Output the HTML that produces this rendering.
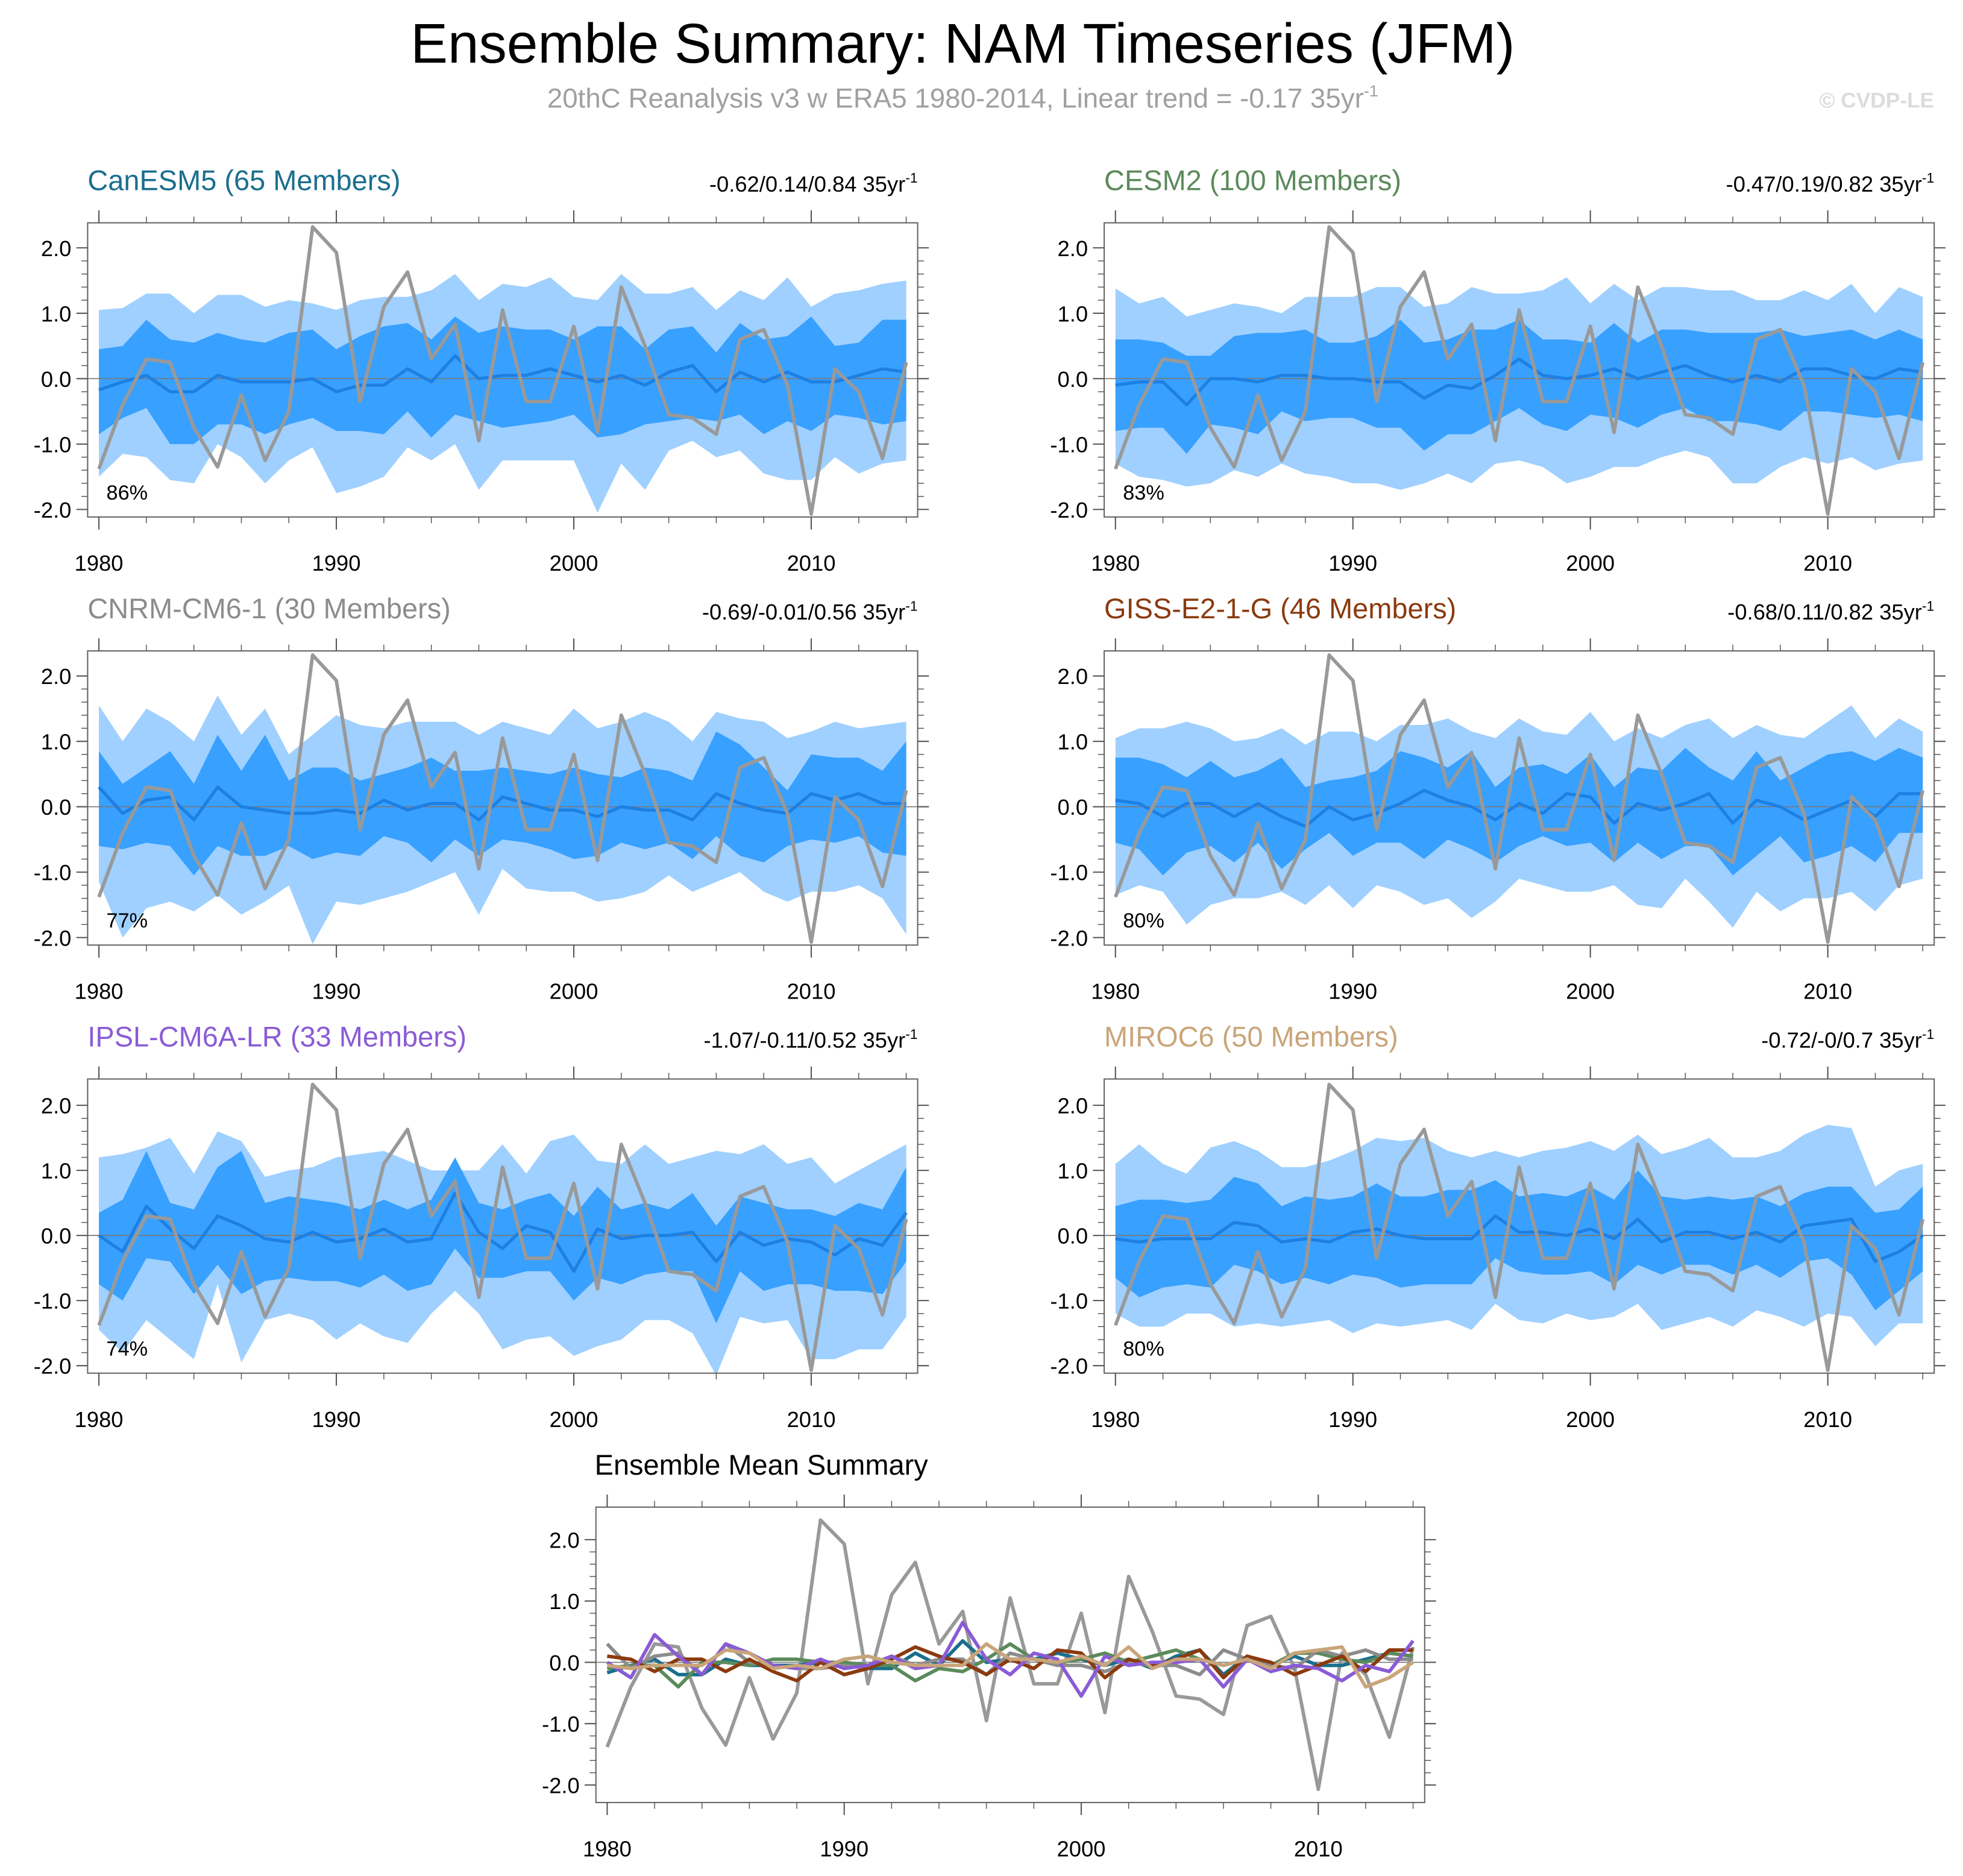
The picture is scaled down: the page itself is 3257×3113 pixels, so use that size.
<!DOCTYPE html>
<html><head><meta charset="utf-8"><title>Ensemble Summary: NAM Timeseries (JFM)</title>
<style>html,body{margin:0;padding:0;background:#fff}svg{display:block}text{font-family:"Liberation Sans",sans-serif}</style>
</head><body>
<svg id="chart" xmlns="http://www.w3.org/2000/svg" width="3257" height="3113" viewBox="0 0 1568 1498.7" preserveAspectRatio="none">
<text x="769" y="50" font-size="44.6" text-anchor="middle">Ensemble Summary: NAM Timeseries (JFM)</text>
<text x="769" y="86" font-size="22" fill="#a0a0a0" text-anchor="middle">20thC Reanalysis v3 w ERA5 1980-2014, Linear trend = -0.17 35yr<tspan dy="-9" font-size="13">-1</tspan></text>
<text x="1545" y="86" font-size="17" font-weight="bold" fill="#dcdcdc" text-anchor="end">© CVDP-LE</text>
<g id="panels"></g>
</svg>
<script>
const years = [];
for (let y = 1980; y <= 2014; y++) years.push(y);
const obs = [-1.38,-0.4,0.3,0.25,-0.75,-1.35,-0.25,-1.25,-0.5,2.32,1.93,-0.35,1.1,1.63,0.3,0.83,-0.95,1.05,-0.35,-0.35,0.8,-0.82,1.4,0.5,-0.55,-0.6,-0.85,0.6,0.75,-0.1,-2.07,0.15,-0.2,-1.22,0.25];
const modelNames = ["CanESM5 (65 Members)","CESM2 (100 Members)","CNRM-CM6-1 (30 Members)","GISS-E2-1-G (46 Members)","IPSL-CM6A-LR (33 Members)","MIROC6 (50 Members)"];
const modelColors = ["#1a6e8e","#5b8a5b","#8c8c8c","#8b3a0e","#8a5bd6","#c9a57a"];
const trendLabels = ["-0.62/0.14/0.84 35yr","-0.47/0.19/0.82 35yr","-0.69/-0.01/0.56 35yr","-0.68/0.11/0.82 35yr","-1.07/-0.11/0.52 35yr","-0.72/-0/0.7 35yr"];
const pctLabels = ["86%","83%","77%","80%","74%","80%"];
const meanCanESM5 = [-0.17,-0.05,0.05,-0.2,-0.2,0.05,-0.05,-0.05,-0.05,0.0,-0.2,-0.1,-0.1,0.15,-0.05,0.35,0.0,0.05,0.05,0.15,0.05,-0.05,0.05,-0.1,0.1,0.2,-0.2,0.1,-0.05,0.1,-0.05,-0.05,0.05,0.15,0.1];
const hi2CanESM5 = [1.05,1.08,1.3,1.3,1.0,1.28,1.28,1.1,1.2,1.15,1.05,1.2,1.25,1.25,1.35,1.6,1.2,1.45,1.4,1.55,1.25,1.2,1.6,1.3,1.3,1.4,1.05,1.35,1.2,1.55,1.1,1.3,1.35,1.45,1.5];
const hi1CanESM5 = [0.45,0.5,0.9,0.6,0.55,0.7,0.6,0.55,0.7,0.75,0.45,0.65,0.8,0.85,0.6,0.95,0.7,0.8,0.75,0.75,0.6,0.8,0.8,0.45,0.75,0.8,0.4,0.85,0.6,0.65,0.95,0.5,0.55,0.9,0.9];
const lo1CanESM5 = [-0.85,-0.6,-0.45,-1.0,-1.0,-0.7,-0.7,-0.85,-0.7,-0.6,-0.8,-0.8,-0.85,-0.5,-0.9,-0.55,-0.65,-0.75,-0.7,-0.65,-0.55,-0.9,-0.85,-0.7,-0.65,-0.6,-0.65,-0.55,-0.85,-0.65,-0.8,-0.55,-0.6,-0.7,-0.65];
const lo2CanESM5 = [-1.5,-1.15,-1.2,-1.55,-1.6,-1.0,-1.2,-1.6,-1.25,-1.05,-1.75,-1.65,-1.5,-1.05,-1.25,-1.0,-1.7,-1.25,-1.25,-1.25,-1.25,-2.05,-1.3,-1.7,-1.1,-0.95,-1.2,-1.1,-1.45,-1.55,-1.55,-1.2,-1.45,-1.3,-1.25];
const meanCESM2 = [-0.1,-0.05,-0.05,-0.4,0.0,0.0,-0.05,0.05,0.05,0.0,0.0,-0.05,-0.05,-0.3,-0.1,-0.15,0.05,0.3,0.05,0.0,0.05,0.15,0.0,0.1,0.2,0.05,-0.05,0.05,-0.05,0.15,0.15,0.05,0.0,0.15,0.1];
const hi2CESM2 = [1.38,1.15,1.25,0.95,1.05,1.15,1.1,1.0,1.25,1.25,1.25,1.4,1.4,1.1,1.15,1.4,1.3,1.3,1.35,1.55,1.15,1.45,1.2,1.4,1.4,1.35,1.35,1.2,1.2,1.35,1.2,1.45,1.0,1.4,1.25];
const hi1CESM2 = [0.6,0.6,0.55,0.35,0.35,0.65,0.7,0.7,0.75,0.55,0.55,0.65,0.9,0.55,0.6,0.75,0.75,0.9,0.6,0.6,0.55,0.85,0.55,0.75,0.75,0.7,0.7,0.7,0.75,0.65,0.7,0.75,0.6,0.75,0.6];
const lo1CESM2 = [-0.8,-0.75,-0.75,-1.15,-0.7,-0.75,-0.85,-0.5,-0.65,-0.6,-0.6,-0.75,-0.75,-1.1,-0.85,-0.85,-0.65,-0.45,-0.7,-0.8,-0.55,-0.6,-0.75,-0.55,-0.45,-0.65,-0.65,-0.7,-0.8,-0.5,-0.5,-0.55,-0.6,-0.55,-0.65];
const lo2CESM2 = [-1.3,-1.5,-1.55,-1.65,-1.6,-1.4,-1.5,-1.3,-1.45,-1.5,-1.6,-1.6,-1.7,-1.6,-1.45,-1.6,-1.3,-1.25,-1.35,-1.6,-1.5,-1.35,-1.35,-1.2,-1.1,-1.2,-1.6,-1.6,-1.35,-1.2,-1.3,-1.2,-1.4,-1.3,-1.25];
const meanCNRM = [0.3,-0.1,0.1,0.15,-0.2,0.3,0.0,-0.05,-0.1,-0.1,-0.05,-0.1,0.1,-0.05,0.05,0.05,-0.2,0.15,0.05,-0.05,-0.05,-0.15,0.0,-0.05,-0.05,-0.2,0.2,0.05,-0.05,-0.1,0.2,0.1,0.2,0.05,0.05];
const hi2CNRM = [1.55,1.0,1.5,1.3,1.0,1.7,1.1,1.5,0.8,1.1,1.4,1.25,1.2,1.3,1.3,1.3,1.1,1.3,1.2,1.1,1.5,1.2,1.3,1.45,1.3,1.0,1.45,1.35,1.3,1.05,1.15,1.3,1.2,1.25,1.3];
const hi1CNRM = [0.85,0.35,0.6,0.85,0.35,1.1,0.55,1.1,0.4,0.6,0.6,0.4,0.5,0.6,0.75,0.55,0.55,0.6,0.55,0.5,0.6,0.5,0.45,0.6,0.55,0.4,1.15,0.95,0.6,0.25,0.8,0.75,0.75,0.55,1.0];
const lo1CNRM = [-0.6,-0.65,-0.55,-0.6,-1.05,-0.6,-0.75,-0.75,-0.6,-0.8,-0.7,-0.75,-0.45,-0.55,-0.85,-0.5,-0.75,-0.5,-0.55,-0.65,-0.8,-0.75,-0.55,-0.65,-0.55,-0.8,-0.45,-0.75,-0.85,-0.6,-0.5,-0.55,-0.45,-0.7,-0.75];
const lo2CNRM = [-1.15,-2.0,-1.55,-1.45,-1.6,-1.35,-1.65,-1.45,-1.2,-2.1,-1.45,-1.5,-1.4,-1.3,-1.15,-1.0,-1.65,-0.95,-1.25,-1.3,-1.3,-1.45,-1.4,-1.3,-1.05,-1.3,-1.15,-1.0,-1.3,-1.45,-1.3,-1.3,-1.2,-1.4,-1.95];
const meanGISS = [0.1,0.05,-0.15,0.05,0.05,-0.15,0.05,-0.15,-0.3,0.0,-0.2,-0.1,0.05,0.25,0.1,0.0,-0.2,0.05,-0.1,0.2,0.15,-0.25,0.05,-0.05,0.05,0.2,-0.25,0.1,0.0,-0.2,-0.05,0.1,-0.15,0.2,0.2];
const hi2GISS = [1.05,1.2,1.2,1.3,1.2,1.0,1.05,1.2,0.95,1.15,1.15,1.0,1.25,1.25,1.35,1.15,1.05,1.35,1.15,1.1,1.45,1.0,1.2,1.05,1.25,1.35,1.05,1.25,1.1,1.05,1.3,1.55,1.05,1.35,1.15];
const hi1GISS = [0.75,0.75,0.65,0.45,0.7,0.45,0.55,0.75,0.3,0.4,0.45,0.55,0.85,0.75,0.6,0.85,0.3,0.6,0.65,0.5,0.8,0.3,0.6,0.55,0.9,0.6,0.4,0.85,0.4,0.6,0.8,0.85,0.7,0.9,0.75];
const lo1GISS = [-0.55,-0.65,-1.05,-0.7,-0.6,-0.85,-0.55,-0.95,-0.65,-0.4,-0.75,-0.55,-0.55,-0.8,-0.5,-0.65,-0.85,-0.6,-0.45,-0.6,-0.55,-0.85,-0.55,-0.8,-0.6,-0.6,-1.05,-0.75,-0.45,-0.85,-0.75,-0.6,-0.85,-0.4,-0.4];
const lo2GISS = [-1.35,-1.2,-1.3,-1.8,-1.5,-1.4,-1.4,-1.3,-1.5,-1.2,-1.55,-1.2,-1.3,-1.5,-1.4,-1.7,-1.45,-1.1,-1.2,-1.3,-1.3,-1.2,-1.5,-1.55,-1.1,-1.45,-1.85,-1.3,-1.6,-1.4,-1.4,-1.3,-1.6,-1.2,-1.1];
const meanIPSL = [0.0,-0.25,0.45,0.1,-0.2,0.3,0.15,-0.05,-0.1,0.05,-0.1,-0.05,0.1,-0.1,-0.05,0.65,0.05,-0.2,0.15,0.05,-0.55,0.1,-0.05,0.0,0.0,0.05,-0.4,0.05,-0.15,-0.05,-0.1,-0.3,-0.05,-0.15,0.35];
const hi2IPSL = [1.2,1.25,1.35,1.5,0.95,1.6,1.45,0.9,1.0,1.05,1.2,1.25,1.3,1.15,1.0,1.0,1.0,1.4,0.95,1.45,1.55,1.15,1.1,1.4,1.1,1.2,1.3,1.25,1.4,1.1,1.2,0.8,1.0,1.2,1.4];
const hi1IPSL = [0.35,0.55,1.3,0.5,0.4,1.05,1.3,0.5,0.6,0.55,0.5,0.4,0.55,0.4,0.55,1.2,0.5,0.4,0.55,0.65,0.3,0.75,0.4,0.5,0.4,0.65,0.15,0.6,0.5,0.4,0.4,0.3,0.5,0.4,1.05];
const lo1IPSL = [-0.75,-1.0,-0.35,-0.4,-0.9,-0.45,-0.9,-0.7,-0.65,-0.7,-0.7,-0.8,-0.6,-0.85,-0.75,-0.2,-0.65,-0.65,-0.55,-0.55,-1.0,-0.65,-0.75,-0.6,-0.55,-0.55,-1.35,-0.55,-0.85,-0.75,-0.75,-0.85,-0.85,-0.9,-0.4];
const lo2IPSL = [-1.45,-1.8,-1.3,-1.6,-1.9,-0.75,-1.95,-1.3,-1.2,-1.3,-1.6,-1.35,-1.55,-1.65,-1.2,-0.85,-1.2,-1.75,-1.6,-1.55,-1.85,-1.7,-1.6,-1.3,-1.3,-1.5,-2.15,-1.25,-1.35,-1.3,-1.9,-1.9,-1.75,-1.75,-1.25];
const meanMIROC = [-0.05,-0.1,-0.05,-0.05,-0.05,0.2,0.15,-0.1,-0.05,-0.1,0.05,0.1,0.0,-0.05,-0.05,-0.05,0.3,0.05,0.05,0.0,0.1,-0.05,0.25,-0.1,0.05,0.05,-0.05,0.05,-0.1,0.15,0.2,0.25,-0.4,-0.25,0.0];
const hi2MIROC = [1.1,1.4,1.1,0.95,1.35,1.45,1.3,1.05,1.05,1.15,1.3,1.5,1.45,1.5,1.3,1.2,1.3,1.2,1.3,1.35,1.45,1.3,1.55,1.25,1.35,1.5,1.2,1.2,1.3,1.55,1.7,1.65,0.75,1.0,1.1];
const hi1MIROC = [0.45,0.55,0.55,0.5,0.55,0.9,0.8,0.45,0.6,0.55,0.6,0.8,0.6,0.6,0.7,0.7,0.85,0.6,0.65,0.6,0.75,0.55,1.0,0.6,0.55,0.6,0.55,0.6,0.45,0.65,0.75,0.75,0.35,0.4,0.75];
const lo1MIROC = [-0.65,-0.95,-0.8,-0.75,-0.8,-0.45,-0.55,-0.75,-0.65,-0.75,-0.6,-0.65,-0.8,-0.75,-0.75,-0.75,-0.35,-0.55,-0.6,-0.6,-0.55,-0.75,-0.45,-0.6,-0.45,-0.45,-0.6,-0.45,-0.65,-0.4,-0.35,-0.6,-1.15,-0.85,-0.55];
const lo2MIROC = [-1.2,-1.4,-1.4,-1.2,-1.2,-1.4,-1.35,-1.4,-1.35,-1.3,-1.5,-1.35,-1.4,-1.35,-1.3,-1.45,-1.05,-1.3,-1.35,-1.2,-1.3,-1.25,-1.05,-1.45,-1.35,-1.25,-1.4,-1.15,-1.25,-1.4,-1.2,-1.25,-1.7,-1.35,-1.35];
const yTickValues = [2,1,0,-1,-2];
const yTickLabels = ["2.0","1.0","0.0","-1.0","-2.0"];
const xTickYears = [1980,1990,2000,2010];

const means = [meanCanESM5,meanCESM2,meanCNRM,meanGISS,meanIPSL,meanMIROC];
const hi2s = [hi2CanESM5,hi2CESM2,hi2CNRM,hi2GISS,hi2IPSL,hi2MIROC];
const hi1s = [hi1CanESM5,hi1CESM2,hi1CNRM,hi1GISS,hi1IPSL,hi1MIROC];
const lo1s = [lo1CanESM5,lo1CESM2,lo1CNRM,lo1GISS,lo1IPSL,lo1MIROC];
const lo2s = [lo2CanESM5,lo2CESM2,lo2CNRM,lo2GISS,lo2IPSL,lo2MIROC];

const NS = "http://www.w3.org/2000/svg";
const root = document.getElementById("panels");
function el(tag, attrs, parent) {
  const e = document.createElementNS(NS, tag);
  for (const k in attrs) e.setAttribute(k, attrs[k]);
  (parent || root).appendChild(e);
  return e;
}
function makeAxes(bx, by, bw, bh, x1980, x2010, y2, yn2) {
  const pxYear = (x2010 - x1980) / 30;
  const y0 = (y2 + yn2) / 2, pxUnit = (yn2 - y2) / 4;
  return {
    x: v => x1980 + (v - 1980) * pxYear,
    y: v => y0 - v * pxUnit,
    bx, by, bw, bh
  };
}
function drawFrame(g, ax) {
  const {bx, by, bw, bh} = ax;
  for (let k = -10; k <= 10; k++) {
    const v = k / 5, py = ax.y(v);
    if (py < by || py > by + bh) continue;
    const major = k % 5 === 0;
    const len = major ? 9 : 5;
    el("line", {x1: bx - len, x2: bx, y1: py, y2: py, stroke: "#555", "stroke-width": major ? 1 : 0.7}, g);
    el("line", {x1: bx + bw, x2: bx + bw + len, y1: py, y2: py, stroke: "#555", "stroke-width": major ? 1 : 0.7}, g);
  }
  for (let yr = 1980; yr <= 2014; yr += 2) {
    const px = ax.x(yr);
    const major = (yr % 10 === 0);
    const len = major ? 10 : 5;
    el("line", {x1: px, x2: px, y1: by - len, y2: by, stroke: "#555", "stroke-width": major ? 1 : 0.7}, g);
    el("line", {x1: px, x2: px, y1: by + bh, y2: by + bh + len, stroke: "#555", "stroke-width": major ? 1 : 0.7}, g);
  }
  yTickValues.forEach((v, i) => {
    const t = el("text", {x: bx - 13, y: ax.y(v) + 6.5, "font-size": 17.5, "text-anchor": "end"}, g);
    
    
    t.textContent = yTickLabels[i];
  });
  xTickYears.forEach(yr => {
    const t = el("text", {x: ax.x(yr), y: by + bh + 43, "font-size": 17.5, "text-anchor": "middle"}, g);
    
    
    t.textContent = yr;
  });
}
function poly(ax, arr) { return arr.map((v, i) => ax.x(years[i]).toFixed(2) + "," + ax.y(v).toFixed(2)); }
function band(g, ax, hi, lo, fill, name) {
  const pts = poly(ax, hi).concat(poly(ax, lo).reverse());
  const p = el("polygon", {points: pts.join(" "), fill: fill}, g);
  
  
}
function line(g, ax, arr, color, w, name) {
  const p = el("polyline", {points: poly(ax, arr).join(" "), fill: "none", stroke: color, "stroke-width": w, "stroke-linejoin": "round"}, g);
  
  
}

const colX = [70, 882], rowY = [178, 520, 862];
const rowY2 = [198, 540, 883], rowYn2 = [407, 749, 1091];
const colX1980 = [79, 891], colX2010 = [648, 1460];
for (let m = 0; m < 6; m++) {
  const c = m % 2, r = Math.floor(m / 2);
  const g = el("g", {});
  
  
  const ax = makeAxes(colX[c], rowY[r], 663, 235, colX1980[c], colX2010[c], rowY2[r], rowYn2[r]);
  band(g, ax, hi2s[m], lo2s[m], "#9fd0ff", "outer-spread-band");
  band(g, ax, hi1s[m], lo1s[m], "#38a0ff", "inner-spread-band");
  el("line", {x1: ax.bx, x2: ax.bx + ax.bw, y1: ax.y(0), y2: ax.y(0), stroke: "#777", "stroke-width": 0.8}, g);
  line(g, ax, means[m], "#1e7fe3", 2.5, "ensemble-mean-line");
  line(g, ax, obs, "#999999", 2.8, "observed-line");
  el("rect", {x: ax.bx, y: ax.by, width: ax.bw, height: ax.bh, fill: "none", stroke: "#666", "stroke-width": 1}, g);
  drawFrame(g, ax);
  const t = el("text", {x: ax.bx, y: ax.by - 26, "font-size": 22.6, fill: modelColors[m]}, g);
  
  
  t.textContent = modelNames[m];
  const tr = el("text", {x: ax.bx + ax.bw, y: ax.by - 25, "font-size": 17.5, "text-anchor": "end"}, g);
  
  
  tr.textContent = trendLabels[m];
  const sup = el("tspan", {dy: -7, "font-size": 11}, tr);
  sup.textContent = "-1";
  const pc = el("text", {x: ax.bx + 15, y: ax.by + 221, "font-size": 16.5}, g);
  
  
  pc.textContent = pctLabels[m];
}
const gs = el("g", {});


const axS = makeAxes(476, 1204, 662, 236, 485, 1053, 1230, 1426);
el("line", {x1: axS.bx, x2: axS.bx + axS.bw, y1: axS.y(0), y2: axS.y(0), stroke: "#777", "stroke-width": 0.8}, gs);
line(gs, axS, obs, "#999999", 2.8, "observed-line");
for (let m = 0; m < 6; m++) line(gs, axS, means[m], modelColors[m], 2.8, "summary-mean-line");
el("rect", {x: axS.bx, y: axS.by, width: axS.bw, height: axS.bh, fill: "none", stroke: "#666", "stroke-width": 1}, gs);
drawFrame(gs, axS);
const st = el("text", {x: 475, y: 1178, "font-size": 22.6}, gs);


st.textContent = "Ensemble Mean Summary";
</script>
</body></html>
